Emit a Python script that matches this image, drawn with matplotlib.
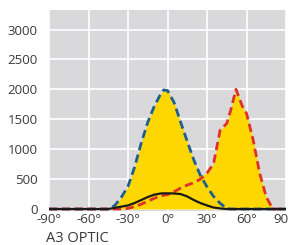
import matplotlib
matplotlib.use("Agg")
import matplotlib.pyplot as plt
import matplotlib.transforms as mtransforms
import numpy as np

angles = [-90, -60, -45, -40, -35, -30, -25, -20, -15, -10, -5, -3, 0, 5, 10, 15, 20, 25, 30, 35, 40, 45, 48, 52, 57, 60, 65, 70, 75, 80, 85, 90]
blue = [0, 0, 0, 60, 200, 380, 700, 1100, 1450, 1720, 1930, 1990, 1980, 1780, 1450, 1130, 820, 560, 370, 210, 95, 10, 0, 0, 0, 0, 0, 0, 0, 0, 0, 0]
red = [0, 0, 0, 0, 0, 10, 40, 80, 130, 180, 220, 230, 240, 290, 350, 400, 440, 500, 600, 760, 1320, 1430, 1650, 2000, 1710, 1600, 1160, 600, 200, 0, 0, 0]
black = [0, 0, 0, 20, 40, 60, 100, 150, 200, 240, 260, 262, 262, 260, 250, 210, 150, 100, 60, 25, 10, 0, 0, 0, 0, 0, 0, 0, 0, 0, 0, 0]

xticks = [-90, -60, -30, 0, 30, 60, 90]
xticklabels = ["-90°", "-60°", "-30°", "0°", "30°", "60°", "90"]
yticks = [0, 500, 1000, 1500, 2000, 2500, 3000]
title = "A3 OPTIC"

plt.rcParams["font.family"] = ["Open Sans", "DejaVu Sans"]
fig = plt.figure(figsize=(2.92, 2.45), dpi=100)
ax = fig.add_axes([49/292, 1 - 211/245, (286-49)/292, (211-10)/245])
ax.set_facecolor("#d9d9db")
x = np.array(angles)
b = np.array(blue)
r = np.array(red)
ax.fill_between(x, 0, np.maximum(b, r), color="#ffd700", lw=0, zorder=2)
ax.plot(x, b, color="#1f5f8f", lw=2, ls=(0, (3, 1.6)), zorder=4)
ax.plot(x, r, color="#e0302a", lw=2, ls=(0, (3, 1.6)), zorder=4)
ax.plot(x, black, color="#1a1a1a", lw=1.6, zorder=5)
ax.set_xlim(-90, 90)
ax.set_ylim(-33, 3326)
ax.set_xticks(xticks)
ax.set_xticklabels(xticklabels)
ax.set_yticks(yticks)
ax.grid(True, color="white", lw=1.2, zorder=1)
ax.set_axisbelow(True)
for s in ax.spines.values():
    s.set_visible(False)
ax.tick_params(length=0, labelsize=9.5, colors="#3a3a3a", pad=1.5)
ax.tick_params(axis="y", pad=8)
last = ax.get_xticklabels()[-1]
last.set_transform(last.get_transform() + mtransforms.ScaledTranslation(-4/72, 0, fig.dpi_scale_trans))
fig.text(46/292, 1 - 238/245, title, fontsize=10.5, color="#3a3a3a", va="center", ha="left")
fig.savefig("out.png", dpi=100)
